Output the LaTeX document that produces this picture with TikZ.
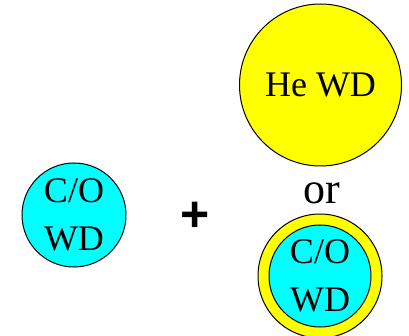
\documentclass[tikz,border=0pt]{standalone}
\usepackage{fontspec}
\setmainfont{Liberation Serif}
\newfontfamily\plusfont{Liberation Sans}
\definecolor{wdcyan}{RGB}{0,255,255}
\definecolor{wdyellow}{RGB}{255,255,0}
\begin{document}
\begin{tikzpicture}[x=1pt,y=-1pt,
  star/.style={circle,draw=black,line width=1pt,inner sep=0pt},
  lbl/.style={font=\fontsize{36}{48}\selectfont,align=center,inner sep=0pt}]
\useasboundingbox (0,0) rectangle (409,336);
% left C/O white dwarf
\node[star,fill=wdcyan,minimum size=104pt] (co) at (74,215) {};
\node[lbl] (colbl) at (co.center) {C/O\\WD};
% plus sign
\node[font=\plusfont\bfseries\fontsize{50}{50}\selectfont,inner sep=0pt] (plus) at (195,216.5) {+};
% helium white dwarf
\node[star,fill=wdyellow,minimum size=162pt] (he) at (320.5,85) {};
\node[lbl] (helbl) at (he.center) {He WD};
% "or"
\node[font=\fontsize{44}{44}\selectfont,inner sep=0pt,anchor=base] (or) at (321.5,203.5) {or};
% hybrid: C/O core with helium envelope
\node[star,fill=wdyellow,minimum size=124pt] (hy) at (320,276) {};
\node[star,fill=wdcyan,minimum size=102pt] (hycore) at (hy.center) {};
\node[lbl] (hylbl) at (hy.center) {C/O\\WD};
\end{tikzpicture}
\end{document}
